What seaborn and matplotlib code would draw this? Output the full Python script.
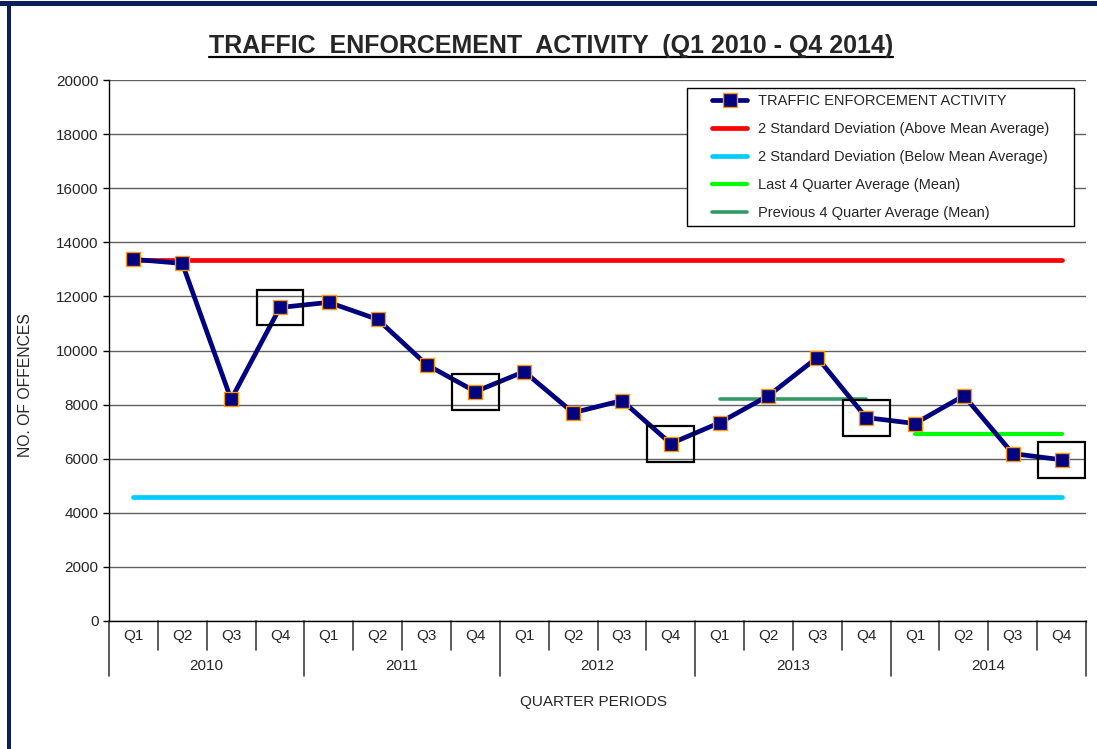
import matplotlib
matplotlib.use("Agg")
import matplotlib.pyplot as plt
import matplotlib.patches as mpatches
from matplotlib.lines import Line2D
import seaborn as sns

# data
years = ["2010", "2011", "2012", "2013", "2014"]
quarters = ["Q1", "Q2", "Q3", "Q4"]
offences = [13370, 13220, 8190, 11590,
            11780, 11150, 9480, 8480,
            9220, 7700, 8150, 6560,
            7330, 8330, 9740, 7520,
            7300, 8330, 6190, 5960]
upper_2sd = 13350
lower_2sd = 4600
prev4_avg = 8220
last4_avg = 6900
boxed = [3, 7, 11, 15, 19]   # Q4 of each year is highlighted

navy = "#000080"
orange = "#FF9900"

sns.set_theme(style="white")
plt.rcParams["font.family"] = ["Liberation Sans", "DejaVu Sans"]

fig = plt.figure(figsize=(10.97, 7.49), dpi=100)
ax = fig.add_axes([109 / 1097, 1 - 621 / 749, 977 / 1097, 541 / 749])

pos = list(range(len(offences)))
n = len(pos)

sns.lineplot(x=[0, n - 1], y=[upper_2sd, upper_2sd], color="#FF0000", lw=3.4, ax=ax,
             label="2 Standard Deviation (Above Mean Average)", zorder=3)
sns.lineplot(x=[0, n - 1], y=[lower_2sd, lower_2sd], color="#00CCFF", lw=3.4, ax=ax,
             label="2 Standard Deviation (Below Mean Average)", zorder=3)
sns.lineplot(x=[16, 19], y=[last4_avg, last4_avg], color="#00FF00", lw=3, ax=ax,
             label="Last 4 Quarter Average (Mean)", zorder=3)
sns.lineplot(x=[12, 15], y=[prev4_avg, prev4_avg], color="#339966", lw=2.6, ax=ax,
             label="Previous 4 Quarter Average (Mean)", zorder=3)
sns.lineplot(x=pos, y=offences, color=navy, lw=3.4, marker="s", markersize=10.5,
             markerfacecolor=navy, markeredgecolor=orange, markeredgewidth=1.0,
             ax=ax, label="TRAFFIC ENFORCEMENT ACTIVITY", zorder=4)

for i in boxed:
    ax.add_patch(mpatches.Rectangle((pos[i] - 0.48, offences[i] - 665), 0.96, 1330,
                                    fill=False, edgecolor="black", lw=1.6, zorder=5))

ax.set_xlim(-0.5, n - 0.5)
ax.set_ylim(0, 20000)
ax.set_yticks(range(0, 20001, 2000))
ax.yaxis.grid(True, color="#606060", lw=1)
ax.set_axisbelow(True)
for s in ["top", "right"]:
    ax.spines[s].set_visible(False)
for s in ["left", "bottom"]:
    ax.spines[s].set_color("black")
    ax.spines[s].set_linewidth(1)
ax.tick_params(axis="y", left=True, length=4.5, width=1, color="black", labelsize=11, pad=3)
ax.set_xticks([])
ax.set_xlabel("")
ax.set_ylabel("NO. OF OFFENCES", fontsize=11.3)
ax.yaxis.set_label_coords(-0.078, 0.436)

# two-level category axis
tr = ax.get_xaxis_transform()
for i in range(n):
    ax.text(pos[i], -0.0277, quarters[i % 4], transform=tr, ha="center", va="center", fontsize=11)
for k in range(n + 1):
    bottom = -0.1017 if k % 4 == 0 else -0.0536
    ax.plot([k - 0.5, k - 0.5], [0, bottom], transform=tr, color="#404040", lw=1.2, clip_on=False)
for j, yr in enumerate(years):
    ax.text(j * 4 + 1.5, -0.0832, yr, transform=tr, ha="center", va="center", fontsize=11)
ax.text((594 - 109) / 977, -0.15, "QUARTER PERIODS", transform=ax.transAxes,
        ha="center", va="center", fontsize=11)

# legend (frame drawn separately: wider side padding than top/bottom)
h, l = ax.get_legend_handles_labels()
order = [4, 0, 1, 2, 3]
leg = ax.legend([h[i] for i in order], [l[i] for i in order], loc="upper left",
                bbox_to_anchor=((712 - 109) / 977, (621 - 94) / 541), fontsize=10.5,
                frameon=False, handlelength=2.4, handletextpad=0.75,
                labelspacing=0.96, borderpad=0.0, borderaxespad=0.0)

# underlined title
title = fig.text(551 / 1097, 1 - 46 / 749, "TRAFFIC  ENFORCEMENT  ACTIVITY  (Q1 2010 - Q4 2014)",
                 ha="center", va="center", fontsize=18, fontweight="bold",
                 family=["Liberation Sans Narrow", "Liberation Sans"])
fig.canvas.draw()
bb = title.get_window_extent().transformed(fig.transFigure.inverted())
fig.add_artist(Line2D([bb.x0, bb.x1], [bb.y0 + 0.001, bb.y0 + 0.001], color="black", lw=1.6))

lb = leg.get_window_extent()
W, H = fig.bbox.width, fig.bbox.height
px, py = 25, 6
fig.add_artist(mpatches.Rectangle(((lb.x0 - px) / W, (lb.y0 - py) / H),
                                  (lb.width + 2 * px) / W, (lb.height + 2 * py) / H,
                                  transform=fig.transFigure, fill=True, facecolor="white",
                                  edgecolor="black", lw=1, zorder=0.5))
leg.set_zorder(10)
fig.add_artist(leg)

# navy frame on top and left edges
fig.add_artist(mpatches.Rectangle((0, 1 - 6 / 749), 1, 5 / 749, transform=fig.transFigure,
                                  color="#0B1F5C", lw=0))
fig.add_artist(mpatches.Rectangle((7 / 1097, 0), 4 / 1097, 1 - 1 / 749, transform=fig.transFigure,
                                  color="#0B1F5C", lw=0))

fig.savefig("out.png", dpi=100)
